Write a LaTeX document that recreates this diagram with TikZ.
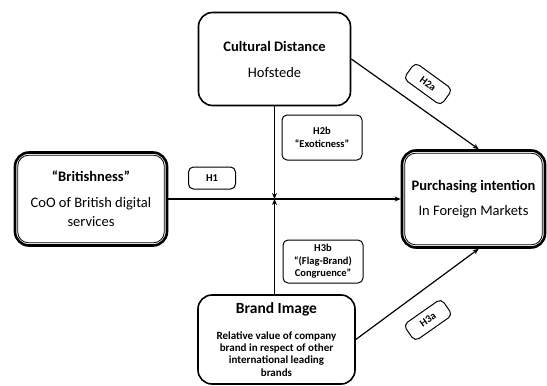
\documentclass[tikz,border=0pt]{standalone}
\usepackage{fontspec}
\setmainfont{Carlito}
\usetikzlibrary{arrows.meta,calc}
\begin{document}
\begin{tikzpicture}[x=1pt,y=-1pt,
  box/.style={draw, rounded corners=14pt, line width=1.6pt, align=center, inner sep=0pt},
  dbox/.style={draw, rounded corners=14pt, line width=2.6pt, align=center, inner sep=0pt},
  innerline/.style={line width=0.8pt, rounded corners=11pt},
  hbox/.style={draw, rounded corners=5pt, line width=1pt, align=center, inner sep=0pt, font=\fontsize{10.5}{12.8}\selectfont\bfseries},
  conn/.style={line width=1.2pt},
  arr/.style={conn, -{Stealth[length=6pt,width=5pt]}}
]
\useasboundingbox (0,0) rectangle (547,386);

% main boxes
\node[box, minimum width=152pt, minimum height=93pt, font=\fontsize{14.5}{26}\selectfont]
  (cult) at (274.5,59) {\textbf{Cultural Distance}\\Hofstede};
\node[dbox, minimum width=152pt, minimum height=93pt, font=\fontsize{14.5}{19}\selectfont]
  (brit) at (91,199) {\textbf{“Britishness”}\\[7pt]CoO of British digital\\services};
\node[dbox, minimum width=143pt, minimum height=97pt, font=\fontsize{14.5}{25}\selectfont]
  (purch) at (473.5,199) {\textbf{Purchasing intention}\\In Foreign Markets};
\node[box, minimum width=157pt, minimum height=89pt, font=\fontsize{11}{12.3}\selectfont\bfseries]
  (brand) at (276.5,339.5) {{\fontsize{15.5}{16}\selectfont Brand Image}\\[13.5pt]Relative value of company\\brand in respect of other\\international leading\\brands};

% inner lines of the double boxes
\draw[innerline] ($(brit.north west)+(4,4)$) rectangle ($(brit.south east)+(-4,-4)$);
\draw[innerline] ($(purch.north west)+(4,4)$) rectangle ($(purch.south east)+(-4,-4)$);

% crossing point
\coordinate (cross) at (274.5,199);

% connectors
\draw[arr] (brit.east) -- (purch.west);
\draw[arr] (cult.south) -- (cross);
\draw[arr] (brand.north -| cross) -- (cross);
\draw[arr] (cult.east) -- (purch.84);
\draw[arr] (brand.east) -- (purch.276);

% hypothesis labels
\node[hbox, minimum width=47pt, minimum height=22pt] (h1) at (212,178) {H1};
\node[hbox, minimum width=80pt, minimum height=45pt] (h2b) at (322,137.5) {H2b\\“Exoticness”};
\node[hbox, minimum width=80pt, minimum height=43pt, font=\fontsize{10.5}{12.3}\selectfont\bfseries] (h3b) at (323,261.5) {H3b\\“(Flag-Brand)\\Congruence”};
\node[hbox, minimum width=46pt, minimum height=20pt, rotate=-36] (h2a) at (428,84) {H2a};
\node[hbox, minimum width=46pt, minimum height=20pt, rotate=35] (h3a) at (428,320) {H3a};
\end{tikzpicture}
\end{document}
